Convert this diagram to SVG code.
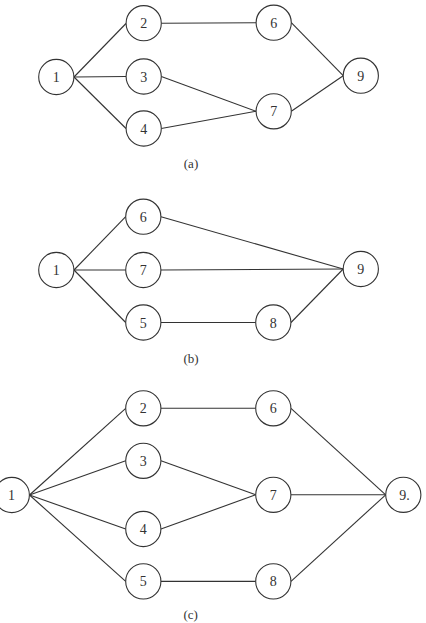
<svg xmlns="http://www.w3.org/2000/svg" width="426" height="623" viewBox="0 0 426 623">
<style>
.n circle{fill:#fff;stroke:#333;stroke-width:1.1}
text{font-family:'Liberation Serif','DejaVu Serif',serif;font-size:14px;fill:#333;text-anchor:middle}
.cap{font-size:13px}
#edges line{stroke:#333;stroke-width:1.1}
</style>
<rect width="426" height="623" fill="#fff"/>
<g id="edges">
<line x1="74" y1="77" x2="126" y2="23.5"/>
<line x1="74" y1="77" x2="126" y2="76.5"/>
<line x1="74" y1="77" x2="126" y2="128.5"/>
<line x1="161.3" y1="23.2" x2="256" y2="22.7"/>
<line x1="291.3" y1="22.7" x2="343.2" y2="75.7"/>
<line x1="161.3" y1="76.5" x2="256" y2="111.3"/>
<line x1="161.3" y1="128.5" x2="256" y2="111.3"/>
<line x1="291.3" y1="111.3" x2="343.2" y2="75.7"/>
<line x1="74" y1="270" x2="125.7" y2="216.7"/>
<line x1="74" y1="270" x2="125.7" y2="270"/>
<line x1="74" y1="270" x2="125.7" y2="322.5"/>
<line x1="161" y1="216.7" x2="343.2" y2="269"/>
<line x1="161" y1="270" x2="343.2" y2="269"/>
<line x1="161" y1="322.5" x2="255.7" y2="322.5"/>
<line x1="291" y1="322.5" x2="343.2" y2="269"/>
<line x1="29.5" y1="495" x2="125.7" y2="408.3"/>
<line x1="29.5" y1="495" x2="125.7" y2="460.8"/>
<line x1="29.5" y1="495" x2="125.7" y2="529"/>
<line x1="29.5" y1="495" x2="125.7" y2="581.4"/>
<line x1="161" y1="408.3" x2="255.7" y2="408.3"/>
<line x1="291" y1="408.3" x2="385.7" y2="494.8"/>
<line x1="161" y1="460.8" x2="255.7" y2="494.8"/>
<line x1="161" y1="529" x2="255.7" y2="494.8"/>
<line x1="291" y1="494.8" x2="385.7" y2="494.8"/>
<line x1="161" y1="581.4" x2="255.7" y2="581.4"/>
<line x1="291" y1="581.4" x2="385.7" y2="494.8"/>
</g>
<g id="a1" class="n"><circle cx="56.3" cy="77" r="17.6"/><text x="56.3" y="82">1</text></g>
<g id="a2" class="n"><circle cx="143.7" cy="23.2" r="17.6"/><text x="143.7" y="28">2</text></g>
<g id="a3" class="n"><circle cx="143.7" cy="76.5" r="17.6"/><text x="143.7" y="81.5">3</text></g>
<g id="a4" class="n"><circle cx="143.7" cy="128.5" r="17.6"/><text x="143.7" y="133.5">4</text></g>
<g id="a6" class="n"><circle cx="273.7" cy="22.7" r="17.6"/><text x="273.7" y="27.5">6</text></g>
<g id="a7" class="n"><circle cx="273.7" cy="111.3" r="17.6"/><text x="273.7" y="116">7</text></g>
<g id="a9" class="n"><circle cx="360.8" cy="75.7" r="17.6"/><text x="360.8" y="80.5">9</text></g>
<text class="cap" x="191" y="168">(a)</text>
<g id="b1" class="n"><circle cx="56.3" cy="270" r="17.6"/><text x="56.3" y="275">1</text></g>
<g id="b6" class="n"><circle cx="143.3" cy="216.7" r="17.6"/><text x="143.3" y="221.5">6</text></g>
<g id="b7" class="n"><circle cx="143.3" cy="270" r="17.6"/><text x="143.3" y="275">7</text></g>
<g id="b5" class="n"><circle cx="143.3" cy="322.5" r="17.6"/><text x="143.3" y="327.5">5</text></g>
<g id="b8" class="n"><circle cx="273.3" cy="322.5" r="17.6"/><text x="273.3" y="327.5">8</text></g>
<g id="b9" class="n"><circle cx="360.8" cy="269" r="17.6"/><text x="360.8" y="274">9</text></g>
<text class="cap" x="191" y="363">(b)</text>
<g id="c1" class="n"><circle cx="11.8" cy="495" r="17.6"/><text x="11.5" y="500">1</text></g>
<g id="c2" class="n"><circle cx="143.3" cy="408.3" r="17.6"/><text x="143.3" y="413">2</text></g>
<g id="c3" class="n"><circle cx="143.3" cy="460.8" r="17.6"/><text x="143.3" y="465.5">3</text></g>
<g id="c4" class="n"><circle cx="143.3" cy="529" r="17.6"/><text x="143.3" y="534">4</text></g>
<g id="c5" class="n"><circle cx="143.3" cy="581.4" r="17.6"/><text x="143.3" y="586.4">5</text></g>
<g id="c6" class="n"><circle cx="273.3" cy="408.3" r="17.6"/><text x="273.3" y="413">6</text></g>
<g id="c7" class="n"><circle cx="273.3" cy="494.8" r="17.6"/><text x="273.3" y="499.8">7</text></g>
<g id="c8" class="n"><circle cx="273.3" cy="581.4" r="17.6"/><text x="273.3" y="586.4">8</text></g>
<g id="c9" class="n"><circle cx="403.3" cy="494.8" r="17.6"/><text x="404.5" y="499.8">9.</text></g>
<text class="cap" x="190.7" y="619">(c)</text>
</svg>
